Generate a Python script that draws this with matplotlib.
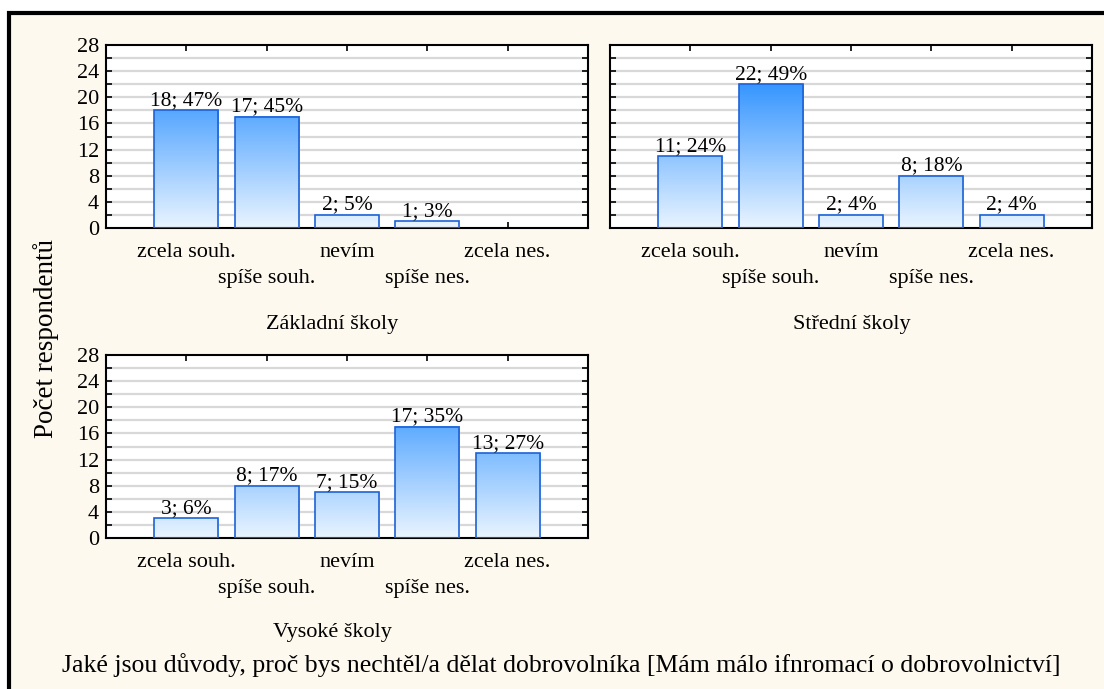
import numpy as np
import matplotlib
matplotlib.use("agg")
import matplotlib.pyplot as plt
from matplotlib.colors import LinearSegmentedColormap
from matplotlib.patches import Rectangle

categories = ["zcela souh.", "spíše souh.", "nevím", "spíše nes.", "zcela nes."]

zs_counts = [18, 17, 2, 1, 0]
zs_pct = [47, 45, 5, 3, 0]
ss_counts = [11, 22, 2, 8, 2]
ss_pct = [24, 49, 4, 18, 4]
vs_counts = [3, 8, 7, 17, 13]
vs_pct = [6, 17, 15, 35, 27]

panel_titles = ["Základní školy", "Střední školy", "Vysoké školy"]
ylabel = "Počet respondentů"
title = "Jaké jsou důvody, proč bys nechtěl/a dělat dobrovolníka [Mám málo ifnromací o dobrovolnictví]"

plt.rcParams["font.family"] = ["Liberation Serif", "DejaVu Serif"]
FS = 16

cream = "#FEF9EE"
cmap = LinearSegmentedColormap.from_list("bl", ["#E9F4FF", "#2F92FF"])

fig = plt.figure(figsize=(11.04, 6.89), dpi=100)
fig.patch.set_facecolor("white")
fig.patches.append(Rectangle((9 / 1104, -0.1), 1.2, 1.1 - 13 / 689, transform=fig.transFigure,
                             facecolor=cream, edgecolor="black", linewidth=3, zorder=-5))


def panel(rect, counts, pcts, show_y):
	ax = fig.add_axes(rect)
	ax.set_facecolor("white")
	x = np.arange(1, len(counts) + 1)
	w = 0.8
	for xi, c, p in zip(x, counts, pcts):
		if c <= 0:
			continue
		grad = np.linspace(0, c, 100).reshape(-1, 1)
		ax.imshow(grad, extent=[xi - w / 2, xi + w / 2, 0, c], aspect="auto", origin="lower",
				  cmap=cmap, vmin=0, vmax=23, zorder=2)
		ax.add_patch(Rectangle((xi - w / 2, 0), w, c, facecolor="none", edgecolor="#1E62D6",
							   linewidth=1.2, zorder=3))
		ax.text(xi, c + 0.05, "%d; %d%%" % (c, p), ha="center", va="bottom", fontsize=FS - 0.5, zorder=4)
	ax.set_xlim(0, 6)
	ax.set_ylim(0, 28)
	ax.set_yticks(np.arange(0, 29, 4))
	ax.set_yticks(np.arange(0, 29, 2), minor=True)
	for yy in np.arange(2, 28, 2):
		ax.axhline(yy, color="#D8D8D8", linewidth=1.6, zorder=1)
	if not show_y:
		ax.set_yticklabels([])
	# staggered category labels: odd ones on major ticks, even ones on minor ticks lower down
	ax.set_xticks(x[0::2])
	ax.set_xticklabels(categories[0::2])
	ax.set_xticks(x[1::2], minor=True)
	ax.set_xticklabels(categories[1::2], minor=True)
	ax.tick_params(axis="both", which="both", direction="in", length=4, width=1.2, top=True, right=True,
				   labelsize=FS, pad=5)
	ax.tick_params(axis="x", which="major", pad=11)
	ax.tick_params(axis="x", which="minor", pad=29.5)
	for s in ax.spines.values():
		s.set_linewidth(1.5)
	return ax


panel([106 / 1104, 1 - 228 / 689, 482 / 1104, 183 / 689], zs_counts, zs_pct, True)
panel([610 / 1104, 1 - 228 / 689, 482 / 1104, 183 / 689], ss_counts, ss_pct, False)
panel([106 / 1104, 1 - 538 / 689, 482 / 1104, 183 / 689], vs_counts, vs_pct, True)

fig.text(332 / 1104, 1 - 325 / 689, panel_titles[0], ha="center", va="center", fontsize=FS)
fig.text(852 / 1104, 1 - 325 / 689, panel_titles[1], ha="center", va="center", fontsize=FS)
fig.text(332 / 1104, 1 - 633 / 689, panel_titles[2], ha="center", va="center", fontsize=FS)
fig.text(46 / 1104, 1 - 338 / 689, ylabel, rotation=90, ha="center", va="center", fontsize=19.5)
fig.text(561 / 1104, 1 - 665 / 689, title, ha="center", va="center", fontsize=18.5)

fig.savefig("out.png", dpi=100, facecolor=fig.get_facecolor())
